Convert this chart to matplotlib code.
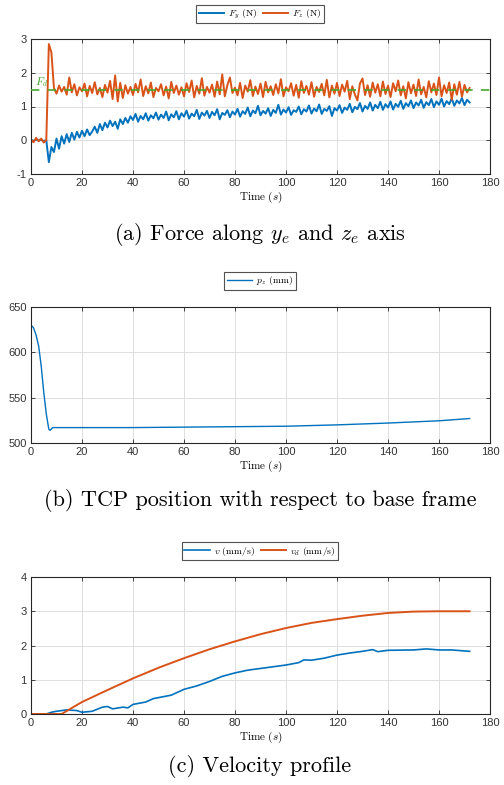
import numpy as np
import matplotlib
matplotlib.use("Agg")
import matplotlib.pyplot as plt

plt.rcParams['mathtext.fontset'] = 'cm'
plt.rcParams['axes.unicode_minus'] = False

BLUE = '#0072BD'
ORANGE = '#D95319'
GREEN = '#3FA92A'

# ---- (a) forces, 1 s samples from t = 0 to 172 ----
t_force = np.arange(0, 173)
f_z = [0.02, -0.06, 0.07, -0.03, 0.05, -0.07, 0.01, 2.85, 2.6, 1.55,
       1.38, 1.62, 1.44, 1.58, 1.35, 1.86, 1.42, 1.66, 1.33, 1.57,
       1.45, 1.68, 1.30, 1.61, 1.40, 1.72, 1.36, 1.55, 1.28, 1.64,
       1.41, 1.76, 1.22, 1.92, 1.15, 1.70, 1.25, 1.63, 1.38, 1.58,
       1.34, 1.67, 1.42, 1.80, 1.31, 1.60, 1.39, 1.71, 1.28, 1.55,
       1.45, 1.66, 1.33, 1.59, 1.24, 1.73, 1.40, 1.62, 1.35, 1.57,
       1.30, 1.69, 1.43, 1.77, 1.27, 1.61, 1.38, 1.84, 1.32, 1.58,
       1.41, 1.65, 1.29, 1.74, 1.36, 1.95, 1.30, 1.63, 1.86, 1.40,
       1.56, 1.33, 1.70, 1.25, 1.62, 1.44, 1.78, 1.31, 1.59, 1.37,
       1.68, 1.28, 1.73, 1.42, 1.60, 1.34, 1.66, 1.39, 1.81, 1.30,
       1.57, 1.45, 1.69, 1.32, 1.64, 1.26, 1.75, 1.40, 1.61, 1.35,
       1.72, 1.29, 1.58, 1.43, 1.67, 1.33, 1.79, 1.27, 1.62, 1.38,
       1.70, 1.31, 1.65, 1.44, 1.76, 1.22, 1.60, 1.36, 1.18, 1.68,
       1.83, 1.34, 1.63, 1.29, 1.71, 1.41, 1.66, 1.30, 1.74, 1.37,
       1.62, 1.28, 1.69, 1.45, 1.77, 1.33, 1.60, 1.24, 1.72, 1.39,
       1.65, 1.31, 1.80, 1.36, 1.58, 1.27, 1.75, 1.42, 1.68, 1.34,
       1.86, 1.30, 1.63, 1.40, 1.71, 1.20, 1.66, 1.35, 1.73, 1.29,
       1.64, 1.42, 1.55]
f_y = [0.01, -0.02, 0.02, -0.01, 0.01, -0.02, 0.0, -0.65, -0.2, -0.35,
       0.05, -0.25, 0.12, -0.10, 0.18, -0.05, 0.22, 0.02, 0.25, 0.08,
       0.28, 0.12, 0.32, 0.15, 0.26, 0.40, 0.22, 0.48, 0.30, 0.52,
       0.38, 0.58, 0.42, 0.55, 0.34, 0.62, 0.48, 0.66, 0.52, 0.71,
       0.60, 0.78, 0.55, 0.72, 0.62, 0.80, 0.58, 0.74, 0.65, 0.82,
       0.61, 0.76, 0.66, 0.85, 0.59, 0.77, 0.68, 0.86, 0.62, 0.80,
       0.70, 0.88, 0.64, 0.79, 0.71, 0.90, 0.63, 0.82, 0.73, 0.87,
       0.66, 0.84, 0.74, 0.92, 0.62, 0.81, 0.75, 0.89, 0.68, 0.85,
       0.76, 0.93, 0.70, 0.86, 0.78, 0.97, 0.71, 0.88, 0.80, 1.02,
       0.74, 0.87, 0.79, 0.95, 0.72, 0.90, 0.81, 1.05, 0.76, 0.91,
       0.82, 0.98, 0.75, 0.89, 0.84, 1.00, 0.77, 0.92, 0.85, 1.03,
       0.79, 0.94, 0.86, 1.06, 0.78, 0.93, 0.87, 1.01, 0.72, 0.95,
       0.88, 1.04, 0.81, 0.97, 0.90, 1.08, 0.83, 0.99, 0.92, 1.10,
       0.85, 1.02, 0.93, 1.12, 0.88, 1.05, 0.95, 1.14, 0.90, 1.07,
       0.97, 1.15, 0.91, 1.08, 0.99, 1.17, 0.93, 1.10, 1.01, 1.18,
       0.95, 1.12, 1.03, 1.20, 0.96, 1.13, 1.04, 1.22, 0.98, 1.15,
       1.05, 1.23, 1.00, 1.16, 1.07, 1.24, 1.02, 1.18, 1.09, 1.25,
       1.04, 1.20, 1.12]
f_desired = 1.5

# ---- (b) TCP z position ----
t_pos = [0, 1, 2, 3, 4, 5, 6, 7, 7.5, 8.5, 20, 40, 60, 80, 100, 120, 140, 160, 172]
p_z = [630, 627, 619, 607, 585, 556, 532, 515, 514, 517, 517, 517, 517.5, 518,
       518.5, 520, 522, 524.5, 527]

# ---- (c) velocity ----
t_vd = [0, 12, 20, 30, 40, 50, 60, 70, 80, 90, 100, 110, 120, 130, 140, 150, 160, 172]
v_d = [0, 0, 0.35, 0.70, 1.04, 1.35, 1.63, 1.89, 2.12, 2.33, 2.51, 2.66, 2.77,
       2.87, 2.95, 2.99, 3.0, 3.0]
t_v = [0, 6, 8, 10, 14, 18, 20, 24, 28, 30, 32, 36, 38, 40, 45, 48, 55, 60, 65,
       70, 75, 80, 85, 90, 95, 100, 105, 107, 110, 115, 120, 125, 130, 134, 136,
       140, 150, 155, 160, 165, 172]
v = [0, 0, 0.05, 0.08, 0.12, 0.10, 0.05, 0.08, 0.20, 0.22, 0.15, 0.20, 0.18,
     0.28, 0.35, 0.45, 0.55, 0.72, 0.82, 0.95, 1.10, 1.20, 1.28, 1.33, 1.38,
     1.43, 1.50, 1.58, 1.57, 1.63, 1.72, 1.78, 1.83, 1.88, 1.82, 1.86, 1.87,
     1.90, 1.87, 1.87, 1.83]

W, H = 504, 785
fig = plt.figure(figsize=(W / 100, H / 100), dpi=100)


def make_axes(top, bottom):
    ax = fig.add_axes([31 / W, 1 - bottom / H, 459 / W, (bottom - top) / H])
    ax.set_xlim(0, 180)
    ax.set_xticks(range(0, 181, 20))
    ax.grid(True, color='#dedede', lw=0.7)
    ax.set_axisbelow(True)
    for s in ax.spines.values():
        s.set_color('#262626')
        s.set_linewidth(0.8)
    ax.tick_params(direction='in', length=3, width=0.6, top=True, right=True,
                   colors='#262626', labelsize=8, pad=3)
    ax.set_xlabel(r'Time $(s)$', family='cmr10', fontsize=8, labelpad=1)
    return ax


def top_legend(ax, cy):
    leg = ax.legend(loc='center', bbox_to_anchor=(260 / W, 1 - cy / H),
                    bbox_transform=fig.transFigure, ncol=2, fontsize=7,
                    frameon=True, fancybox=False, handlelength=2.6,
                    handletextpad=0.4, columnspacing=0.6, borderpad=0.25,
                    borderaxespad=0)
    leg.get_frame().set_edgecolor('#262626')
    leg.get_frame().set_linewidth(0.8)
    for txt in leg.get_texts():
        txt.set_family('cmr10')


def caption(text, cy):
    fig.text(260 / W, 1 - cy / H, text, ha='center', va='center',
             family='cmr10', fontsize=16)


# panel a
ax1 = make_axes(39, 174)
ax1.plot(t_force, f_y, color=BLUE, lw=1.4, label=r'$F_y$ (N)')
ax1.plot(t_force, f_z, color=ORANGE, lw=1.4, label=r'$F_z$ (N)')
ax1.plot([0, 180], [f_desired, f_desired], color=GREEN, lw=1.2,
         dashes=(5, 5), zorder=3)
ax1.text(1.5, 1.62, r'$F_d$', color=GREEN, fontsize=8)
ax1.set_ylim(-1, 3)
ax1.set_yticks(range(-1, 4))
top_legend(ax1, 14)
caption(r'(a) Force along $y_e$ and $z_e$ axis', 235)

# panel b
ax2 = make_axes(307, 443)
ax2.plot(t_pos, p_z, color=BLUE, lw=1.0, label=r'$p_z$ (mm)')
ax2.set_ylim(500, 650)
ax2.set_yticks([500, 550, 600, 650])
top_legend(ax2, 281)
caption('(b) TCP position with respect to base frame', 500)

# panel c
ax3 = make_axes(577, 714)
ax3.plot(t_v, v, color=BLUE, lw=1.2, label=r'$v$ (mm/s)')
ax3.plot(t_vd, v_d, color=ORANGE, lw=1.4, label=r'$v_d$ (mm/s)')
ax3.set_ylim(0, 4)
ax3.set_yticks(range(0, 5))
top_legend(ax3, 551)
caption('(c) Velocity profile', 767)

for ax in (ax1, ax2, ax3):
    for lab in ax.get_xticklabels() + ax.get_yticklabels():
        lab.set_family('Liberation Sans')
        lab.set_color('#333333')

fig.savefig('out.png', dpi=100)
